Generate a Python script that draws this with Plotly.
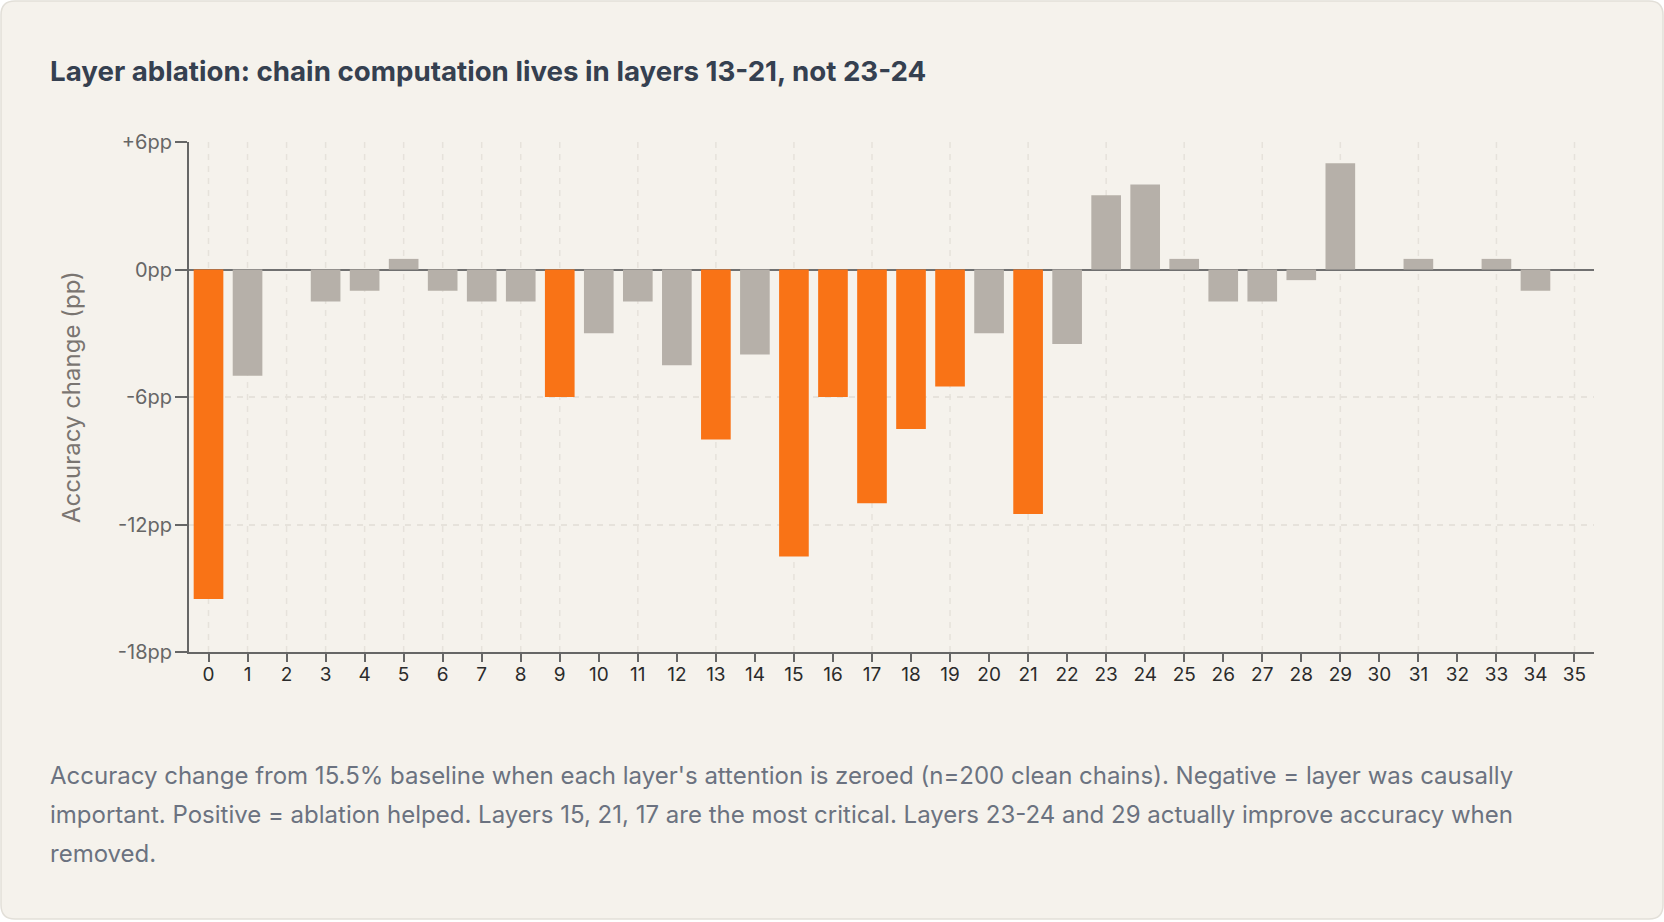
import plotly.graph_objects as go

# ---- data ----
layers = list(range(36))
acc_change_pp = [-15.5, -5, 0, -1.5, -1, 0.5, -1, -1.5, -1.5, -6,
                 -3, -1.5, -4.5, -8, -4, -13.5, -6, -11, -7.5, -5.5,
                 -3, -11.5, -3.5, 3.5, 4, 0.5, -1.5, -1.5, -0.5, 5,
                 0, 0.5, 0, 0.5, -1, 0]
highlight_layers = [0, 9, 13, 15, 16, 17, 18, 19, 21]
y_tick_vals = [-18, -12, -6, 0, 6]
y_tick_text = ["-18pp", "-12pp", "-6pp", "0pp", "+6pp"]
v_grid_layers = [0, 1, 2, 3, 4, 5, 6, 7, 8, 9, 11, 13, 15, 17, 19, 21,
                 23, 25, 27, 29, 31, 33, 35]

title_text = "Layer ablation: chain computation lives in layers 13-21, not 23-24"
y_title = "Accuracy change (pp)"
caption_lines = [
    "Accuracy change from 15.5% baseline when each layer's attention is zeroed (n=200 clean chains). Negative = layer was causally",
    "important. Positive = ablation helped. Layers 15, 21, 17 are the most critical. Layers 23-24 and 29 actually improve accuracy when",
    "removed.",
]

ORANGE = "#f97316"
GRAY = "#b6b0a9"
AXIS = "#666666"
GRID = "#e6e2db"
CARD = "#f5f2ec"

W, H = 1664, 922
ML, MR, MT, MB = 189, 70, 142, 270
PW, PH = W - ML - MR, H - MT - MB


def px_x(px):
    return (px - ML) / PW


def px_y(py):
    return (H - MB - py) / PH


colors = [ORANGE if l in highlight_layers else GRAY for l in layers]

fig = go.Figure()
fig.add_trace(go.Bar(
    x=layers, y=acc_change_pp,
    marker=dict(color=colors, line=dict(width=0)),
    width=0.76, hoverinfo="x+y",
))

shapes = []
# card
x0, x1, y0, y1, r = 1, 1663, 1, 919, 14
path = (f"M {px_x(x0 + r)},{px_y(y0)} L {px_x(x1 - r)},{px_y(y0)} "
        f"Q {px_x(x1)},{px_y(y0)} {px_x(x1)},{px_y(y0 + r)} "
        f"L {px_x(x1)},{px_y(y1 - r)} Q {px_x(x1)},{px_y(y1)} {px_x(x1 - r)},{px_y(y1)} "
        f"L {px_x(x0 + r)},{px_y(y1)} Q {px_x(x0)},{px_y(y1)} {px_x(x0)},{px_y(y1 - r)} "
        f"L {px_x(x0)},{px_y(y0 + r)} Q {px_x(x0)},{px_y(y0)} {px_x(x0 + r)},{px_y(y0)} Z")
shapes.append(dict(type="path", xref="paper", yref="paper", path=path,
                   fillcolor=CARD, line=dict(color="#e2dfd8", width=1.5),
                   layer="below"))
for g in v_grid_layers:
    shapes.append(dict(type="line", xref="x", yref="y", x0=g, x1=g,
                       y0=-18, y1=6, layer="below",
                       line=dict(color=GRID, width=1.5, dash="6px,6px")))

annotations = [
    dict(text=y_title, xref="paper", yref="paper", x=px_x(71), y=px_y(397),
         textangle=-90, showarrow=False, xanchor="center", yanchor="middle",
         font=dict(family="Inter", size=24, color="#7a7571")),
]
for i, line in enumerate(caption_lines):
    annotations.append(dict(text=line, xref="paper", yref="paper",
                            x=px_x(48), y=px_y(775 + 39 * i),
                            xanchor="left", yanchor="middle", showarrow=False,
                            font=dict(family="Inter", size=24, color="#6b7280")))

fig.update_layout(
    width=W, height=H,
    margin=dict(l=ML, r=MR, t=MT, b=MB, pad=0),
    paper_bgcolor="#ffffff", plot_bgcolor="rgba(0,0,0,0)",
    showlegend=False,
    title=dict(text=f"<b>{title_text}</b>", x=50 / W, xanchor="left",
               y=1 - 71 / H, yanchor="middle",
               font=dict(family="Inter", size=27.7, color="#354050")),
    xaxis=dict(range=[-0.5, 35.5], tickmode="array", tickvals=layers,
               ticktext=[str(l) for l in layers], showgrid=False,
               zeroline=False, showline=True, linecolor=AXIS, linewidth=2,
               ticks="outside", ticklen=8, tickwidth=1.5, tickcolor=AXIS,
               ticklabelstandoff=-4,
               tickfont=dict(family="Inter", size=19, color="#2b2b2b")),
    yaxis=dict(range=[-18, 6], tickmode="array", tickvals=y_tick_vals,
               ticktext=y_tick_text, showgrid=True, gridcolor=GRID,
               griddash="6px,6px", gridwidth=1.5,
               zeroline=True, zerolinecolor="#707070", zerolinewidth=2,
               showline=True, linecolor=AXIS, linewidth=2,
               ticks="outside", ticklen=12, tickwidth=2, tickcolor=AXIS,
               ticklabelstandoff=-1,
               tickfont=dict(family="Inter", size=20, color="#666666")),
    shapes=shapes, annotations=annotations,
    bargap=0.24,
)

fig.write_html(
    "out.html",
    config={"displayModeBar": False},
    post_script="document.body.style.margin='0';document.body.style.overflow='hidden';",
)
